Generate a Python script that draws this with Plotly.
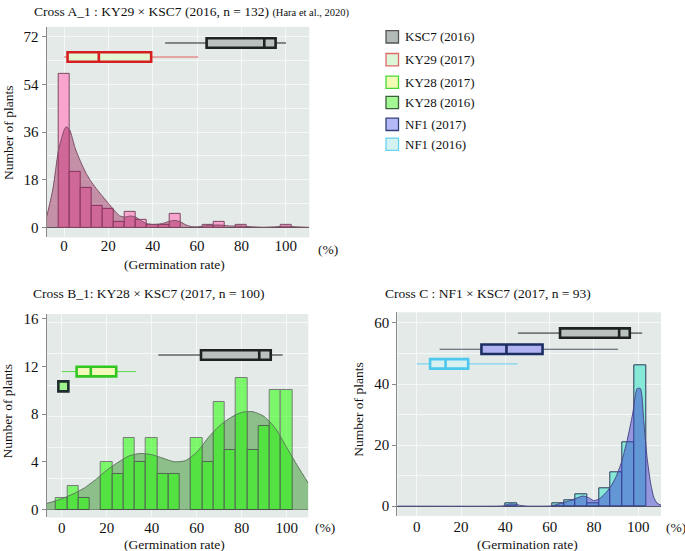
import plotly.graph_objects as go

W, H = 685, 551
FONT = "Liberation Serif"

# ---------------- data ----------------
# Panel A : Cross A_1 : KY29 x KSC7 (2016, n = 132)
A_BIN_CENTERS = [0, 5, 10, 15, 20, 25, 30, 35, 40, 45, 50, 65, 70, 80, 100]
A_COUNTS = [58, 21, 15, 8, 7, 2, 6, 3, 1, 1, 5, 1, 2, 1, 1]
A_DENS_X = [-7.8, -5, -2.5, 0, 1, 2.5, 5, 7.5, 10, 12.5, 15, 17.5, 20, 22.5, 25, 27.5,
            30, 32.5, 35, 37.5, 40, 42.5, 45, 47.5, 50, 52.5, 55, 57.5, 60, 65, 70,
            75, 80, 85, 90, 95, 100, 105, 110.6]
A_DENS_Y = [4, 14.5, 29, 36.7, 38, 37, 30, 24.8, 20.4, 17, 14.2, 11.6, 9.1, 6.6, 4.4, 3.9,
            4.3, 3.8, 2.4, 1.4, 1.1, 1.2, 1.6, 2.3, 2.6, 2.1, 0.9, 0.3, 0.2, 0.7, 0.9,
            0.5, 0.5, 0.2, 0.05, 0.2, 0.45, 0.2, 0]
A_BOX_NAMES = ["KSC7 (2016)", "KY29 (2017)"]
A_BOX_LOW = [45.6, 0.0]
A_BOX_Q1 = [64.3, 1.6]
A_BOX_MED = [90.3, 15.7]
A_BOX_Q3 = [95.4, 39.3]
A_BOX_HIGH = [100.1, 60.5]
A_BOX_POS = [69.7, 64.4]

# Panel B : Cross B_1 : KY28 x KSC7 (2017, n = 100)
B_BIN_CENTERS = [0, 5, 10, 20, 25, 30, 35, 40, 45, 50, 60, 65, 70, 75, 80, 85, 90, 95, 100]
B_COUNTS = [1, 2, 1, 4, 3, 6, 4, 6, 3, 3, 6, 4, 9, 5, 11, 5, 7, 10, 10]
B_DENS_X = [-6.7, 0, 5, 10, 15, 20, 25, 30, 35, 40, 45, 50, 55, 60, 65, 70, 75, 80, 85,
            90, 95, 100, 105, 109.6]
B_DENS_Y = [0.5, 0.9, 1.3, 1.8, 2.5, 3.3, 3.95, 4.5, 4.7, 4.6, 4.3, 4.0, 4.1, 4.8, 6.0,
            7.0, 7.7, 8.15, 8.2, 7.8, 6.8, 5.2, 3.6, 2.2]
B_BOX_NAMES = ["KSC7 (2016)", "KY28 (2017)"]
B_BOX_LOW = [42.9, 0.0]
B_BOX_Q1 = [61.9, 6.6]
B_BOX_MED = [87.8, 12.9]
B_BOX_Q3 = [92.9, 24.2]
B_BOX_HIGH = [98.2, 33.0]
B_BOX_POS = [12.96, 11.57]
B_POINT_NAME = "KY28 (2016)"
B_POINT_X = [0.7]
B_POINT_POS = [10.33]

# Panel C : Cross C : NF1 x KSC7 (2017, n = 93)
C_BIN_CENTERS = [42.55, 63.75, 69.05, 74.35, 79.65, 84.95, 90.25, 95.55, 100.85]
C_COUNTS = [1, 1, 2, 4, 1, 6, 11, 21, 46]
C_DENS_X = [-8.8, 36, 39, 42, 44.5, 47, 50, 58, 60, 62, 65, 70, 75, 77.5, 80, 82.5, 85,
            87.5, 90, 92.5, 95, 97.5, 99.5, 101, 102.5, 104, 105.5, 107, 108.5, 110.3]
C_DENS_Y = [0, 0, 0.1, 0.7, 0.6, 0.2, 0, 0, 0.05, 0.3, 0.9, 2.0, 3.3, 2.8, 1.8, 2.4, 4.1,
            6.3, 9.6, 14.5, 21.5, 30.2, 38.5, 38.5, 28, 16, 8, 3, 1, 0.3]
C_BOX_NAMES = ["KSC7 (2016)", "NF1 (2017)", "NF1 (2016)"]
C_BOX_LOW = [45.7, 10.3, 0.0]
C_BOX_Q1 = [64.7, 29.2, 6.0]
C_BOX_MED = [91.4, 40.5, 13.0]
C_BOX_Q3 = [96.2, 56.8, 23.2]
C_BOX_HIGH = [101.8, 90.9, 45.5]
C_BOX_POS = [56.7, 51.4, 46.6]

X_TICKS = [0, 20, 40, 60, 80, 100]
A_Y_TICKS = [0, 18, 36, 54, 72]
B_Y_TICKS = [0, 4, 8, 12, 16]
C_Y_TICKS = [0, 20, 40, 60]

LEGEND_NAMES = ["KSC7 (2016)", "KY29 (2017)", "KY28 (2017)", "KY28 (2016)",
                "NF1 (2017)", "NF1 (2016)"]

TITLES = ["Cross A_1 : KY29 × KSC7 (2016, n = 132) "
          "<span style='font-size:10.5px'>(Hara et al., 2020)</span>",
          "Cross B_1: KY28 × KSC7 (2017, n = 100)",
          "Cross C : NF1 × KSC7 (2017, n = 93)"]

# ---------------- styles ----------------
PARENT_STYLE = {
    "KSC7 (2016)": dict(fill="#BAC2C0", line="#1E2222", whisk="#222222", lfill="#B3BBB9", lline="#555555"),
    "KY29 (2017)": dict(fill="#E2F7D2", line="#D42020", whisk="#E46060", lfill="#DCF7D8", lline="#E06868"),
    "KY28 (2017)": dict(fill="#F3F9B8", line="#30C820", whisk="#55DD44", lfill="#F2FCB4", lline="#48D838"),
    "KY28 (2016)": dict(fill="#9EF28C", line="#1E2E2E", whisk="#1E2E2E", lfill="#A4F894", lline="#3B5E3B"),
    "NF1 (2017)":  dict(fill="#B0B2F2", line="#1C2E62", whisk="#4B5868", lfill="#B4B8F6", lline="#34427A"),
    "NF1 (2016)":  dict(fill="#D6F1F0", line="#4CC8EE", whisk="#62D0F2", lfill="#D4F2F2", lline="#66D4F0"),
}
BG = "#E4EAE7"
GRID = "#F6F8F7"


def px_x(p):
    return p / W


def px_y(p):
    return 1 - p / H


fig = go.Figure()


def add_hist(xs, ys, width, color, lcolor, xa, ya, opacity=1.0):
    fig.add_trace(go.Bar(x=xs, y=ys, width=width, xaxis=xa, yaxis=ya, opacity=opacity,
                         marker=dict(color=color, line=dict(color=lcolor, width=1)),
                         showlegend=False, hoverinfo="x+y"))


def add_density(xs, ys, lcolor, fcolor, xa, ya, with_line=True):
    fig.add_trace(go.Scatter(x=xs, y=ys, mode="lines", xaxis=xa, yaxis=ya,
                             line=dict(color=lcolor if with_line else "rgba(0,0,0,0)",
                                       width=1, shape="spline", smoothing=0.6),
                             fill="tozeroy", fillcolor=fcolor, showlegend=False))


def add_density_line(xs, ys, lcolor, xa, ya):
    fig.add_trace(go.Scatter(x=xs, y=ys, mode="lines", xaxis=xa, yaxis=ya,
                             line=dict(color=lcolor, width=1, shape="spline", smoothing=0.6),
                             showlegend=False))


def add_boxes(names, low, q1, med, q3, high, pos, xa, ya, bw):
    for i, name in enumerate(names):
        st = PARENT_STYLE[name]
        # whiskers (thin)
        fig.add_trace(go.Box(orientation="h", y=[pos[i]], q1=[q1[i]], median=[med[i]],
                             q3=[q3[i]], lowerfence=[low[i]], upperfence=[high[i]],
                             width=bw, whiskerwidth=0, xaxis=xa, yaxis=ya,
                             line=dict(color=st["whisk"], width=1),
                             fillcolor="rgba(0,0,0,0)", showlegend=False, name=name))
        # box (thick)
        fig.add_trace(go.Box(orientation="h", y=[pos[i]], q1=[q1[i]], median=[med[i]],
                             q3=[q3[i]], lowerfence=[q1[i]], upperfence=[q3[i]],
                             width=bw, whiskerwidth=0, xaxis=xa, yaxis=ya,
                             line=dict(color=st["line"], width=2.6),
                             fillcolor=st["fill"], showlegend=False, name=name))


# Panel A (density drawn over the bars)
add_hist(A_BIN_CENTERS, A_COUNTS, 5, "#F8A4CE", "#7A4A60", "x", "y")
add_density(A_DENS_X, A_DENS_Y, "#7E5068", "rgba(150,20,80,0.42)", "x", "y")
add_boxes(A_BOX_NAMES, A_BOX_LOW, A_BOX_Q1, A_BOX_MED, A_BOX_Q3, A_BOX_HIGH, A_BOX_POS,
          "x", "y", 3.6)

# Panel B (density area underneath; translucent bars on an overlaying axis pair above it)
add_density(B_DENS_X, B_DENS_Y, "#5A7A5A", "rgb(141,191,138)", "x2", "y2", with_line=False)
add_hist(B_BIN_CENTERS, B_COUNTS, 5, "rgb(38,255,7)", "#222222", "x4", "y4", opacity=0.55)
add_density_line(B_DENS_X, B_DENS_Y, "#5E7A5E", "x4", "y4")
add_boxes(B_BOX_NAMES, B_BOX_LOW, B_BOX_Q1, B_BOX_MED, B_BOX_Q3, B_BOX_HIGH, B_BOX_POS,
          "x4", "y4", 0.8)
stp = PARENT_STYLE[B_POINT_NAME]
fig.add_trace(go.Scatter(x=B_POINT_X, y=B_POINT_POS, mode="markers", xaxis="x4", yaxis="y4",
                         marker=dict(symbol="square", size=10, color=stp["fill"],
                                     line=dict(color=stp["line"], width=2.6)),
                         showlegend=False, name=B_POINT_NAME))

# Panel C (density drawn over the bars)
add_hist(C_BIN_CENTERS, C_COUNTS, 5.3, "#86E8D6", "#2A3A5A", "x3", "y3")
add_density(C_DENS_X, C_DENS_Y, "#4A4A8A", "rgba(60,60,210,0.48)", "x3", "y3")
add_boxes(C_BOX_NAMES, C_BOX_LOW, C_BOX_Q1, C_BOX_MED, C_BOX_Q3, C_BOX_HIGH, C_BOX_POS,
          "x3", "y3", 3.1)

tickfont = dict(family=FONT, size=15, color="#111")


def xaxis(dom, rng, anchor, standoff=0):
    return dict(domain=[px_x(dom[0]), px_x(dom[1])], range=rng, anchor=anchor,
                tickmode="array", tickvals=X_TICKS, ticks="", tickfont=tickfont,
                ticklabelstandoff=standoff,
                showgrid=True, gridcolor=GRID, gridwidth=1, zeroline=False,
                showline=False, fixedrange=True)


def yaxis(dom, rng, anchor, ticks, grid_major, minor_dtick):
    d = dict(domain=[px_y(dom[1]), px_y(dom[0])], range=rng, anchor=anchor,
             tickmode="array", tickvals=ticks, ticks="outside", ticklen=4,
             tickcolor="#888", tickwidth=1, tickfont=tickfont,
             showline=True, linecolor="#8A8A8A", linewidth=1.3,
             showgrid=grid_major, gridcolor=GRID, gridwidth=1,
             zeroline=True, zerolinecolor="#5A5A5A", zerolinewidth=1, fixedrange=True,
             minor=dict(tickmode="linear", tick0=0, dtick=minor_dtick, showgrid=True,
                        gridcolor=GRID, gridwidth=1, ticks=""))
    return d


B_XDOM, B_XRANGE = (46.7, 308.3), [-6.7, 109.6]
B_YDOM, B_YRANGE = (312.7, 517.3), [-0.67, 16.4]

fig.update_layout(
    width=W, height=H, margin=dict(l=0, r=0, t=0, b=0),
    paper_bgcolor="white", plot_bgcolor=BG,
    barmode="overlay", boxmode="overlay", bargap=0,
    showlegend=False,
    font=dict(family=FONT, color="#111"),
    xaxis=xaxis((46.7, 309.3), [-7.8, 110.6], "y", standoff=-2),
    yaxis=yaxis((24, 235.7), [-3.8, 75.8], "x", A_Y_TICKS, True, 9),
    xaxis2=xaxis(B_XDOM, B_XRANGE, "y2"),
    yaxis2=yaxis(B_YDOM, B_YRANGE, "x2", B_Y_TICKS, False, 2.61),
    xaxis3=xaxis((397.3, 661), [-8.8, 110.3], "y3"),
    yaxis3=yaxis((311, 515.7), [-3.2, 63.5], "x3", C_Y_TICKS, True, 10),
    xaxis4=dict(overlaying="x2", anchor="y4", range=B_XRANGE, visible=False,
                domain=[px_x(B_XDOM[0]), px_x(B_XDOM[1])], fixedrange=True),
    yaxis4=dict(overlaying="y2", anchor="x4", range=B_YRANGE, visible=False,
                domain=[px_y(B_YDOM[1]), px_y(B_YDOM[0])], fixedrange=True),
)

ann = []
# titles
for txt, (x, y) in zip(TITLES, [(31.7, 8.5), (31, 292.3), (382.7, 292.3)]):
    ann.append(dict(text=txt, x=px_x(x), y=px_y(y), xref="paper", yref="paper",
                    xanchor="left", yanchor="middle", showarrow=False,
                    font=dict(family=FONT, size=13.5, color="#111")))
# (%) labels
for (x, y) in [(316, 248), (313.3, 527.3), (664, 527.3)]:
    ann.append(dict(text="(%)", x=px_x(x), y=px_y(y), xref="paper", yref="paper",
                    xanchor="left", yanchor="middle", showarrow=False,
                    font=dict(family=FONT, size=13.5, color="#111")))
# x-axis titles
for xr, y in [("x", 262.5), ("x2", 544), ("x3", 544)]:
    ann.append(dict(text="(Germination rate)", x=50, xref=xr, y=px_y(y), yref="paper",
                    xanchor="center", yanchor="middle", showarrow=False,
                    font=dict(family=FONT, size=13.5, color="#111")))
# y-axis titles
for (x, y) in [(9, 130.7), (7, 410.7), (359, 409)]:
    ann.append(dict(text="Number of plants", x=px_x(x), y=px_y(y), xref="paper", yref="paper",
                    xanchor="center", yanchor="middle", textangle=-90, showarrow=False,
                    font=dict(family=FONT, size=13.5, color="#111")))

# legend (drawn manually)
shapes = []
LEG_Y = [34, 57, 79.7, 100, 122, 142]
for name, cy in zip(LEGEND_NAMES, LEG_Y):
    st = PARENT_STYLE[name]
    shapes.append(dict(type="rect", xref="paper", yref="paper",
                       x0=px_x(386), x1=px_x(398.5), y0=px_y(cy + 6.2), y1=px_y(cy - 6.2),
                       fillcolor=st["lfill"], line=dict(color=st["lline"], width=1.3)))
    ann.append(dict(text=name, x=px_x(403.3), y=px_y(cy), xref="paper", yref="paper",
                    xanchor="left", yanchor="middle", showarrow=False,
                    font=dict(family=FONT, size=13, color="#111")))

fig.update_layout(annotations=ann, shapes=shapes)
fig.write_html("out.html", config={"displayModeBar": False},
               post_script="document.body.style.margin='0';document.body.style.padding='0';"
                           "document.body.style.overflow='hidden';")
